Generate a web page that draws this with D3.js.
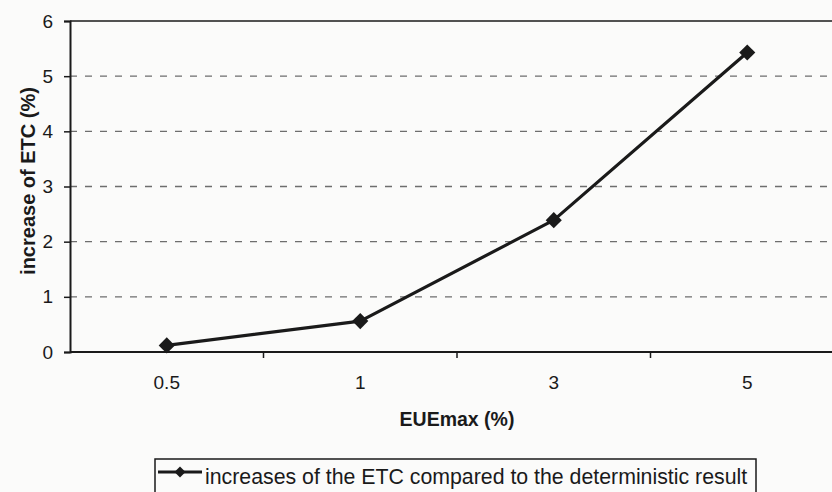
<!DOCTYPE html>
<html>
<head>
<meta charset="utf-8">
<script src="https://cdn.jsdelivr.net/npm/d3@7"></script>
<style>
  html, body { margin: 0; padding: 0; background: #fbfbfa; overflow: hidden; }
  svg { display: block; font-family: Arial, "Liberation Sans", sans-serif; }
</style>
</head>
<body>
<svg id="chart" width="832" height="492"></svg>
<script>
// EUEmax categories and ETC increase values (%)
const categories = ["0.5", "1", "3", "5"];
const etcIncrease = [0.12, 0.56, 2.39, 5.43];
const yTicks = [0, 1, 2, 3, 4, 5, 6];
const seriesName = "increases of the ETC compared to the deterministic result";
const xTitle = "EUEmax (%)";
const yTitle = "increase of ETC (%)";

const ink = "#1a1a1a";
const font = "Arial, 'Liberation Sans', sans-serif";
const svg = d3.select("#chart");

const plot = { left: 70, right: 844, top: 21, bottom: 352 };

const x = d3.scaleBand().domain(categories).range([plot.left, plot.right]).padding(0);
const y = d3.scaleLinear().domain([0, 6]).range([plot.bottom, plot.top]);

// dashed horizontal gridlines
svg.append("g")
  .selectAll("line")
  .data(yTicks.filter(v => v > 0 && v < 6))
  .join("line")
  .attr("x1", plot.left).attr("x2", plot.right)
  .attr("y1", d => y(d)).attr("y2", d => y(d))
  .attr("stroke", "#6e6e6e").attr("stroke-width", 1.3)
  .attr("stroke-dasharray", "7,8");

// top frame line
svg.append("line")
  .attr("x1", plot.left).attr("x2", plot.right)
  .attr("y1", y(6)).attr("y2", y(6))
  .attr("stroke", ink).attr("stroke-width", 1.6);

// y axis
const yAxis = svg.append("g")
  .attr("transform", `translate(${plot.left},0)`)
  .call(d3.axisLeft(y).tickValues(yTicks).tickSize(6).tickPadding(11).tickFormat(d3.format("d")));
yAxis.select(".domain").attr("stroke", ink).attr("stroke-width", 2);
yAxis.selectAll(".tick line").attr("stroke", ink).attr("stroke-width", 1.5);
yAxis.selectAll(".tick text").attr("fill", ink).attr("font-size", 19).attr("font-family", font);

// x axis: ticks sit on band boundaries, labels at band centres
const xAxisG = svg.append("g").attr("transform", `translate(0,${plot.bottom})`);
xAxisG.append("line")
  .attr("x1", plot.left).attr("x2", plot.right)
  .attr("stroke", ink).attr("stroke-width", 2);
xAxisG.selectAll("line.tick")
  .data(categories.slice(1))
  .join("line")
  .attr("class", "tick")
  .attr("x1", d => x(d)).attr("x2", d => x(d))
  .attr("y1", 0).attr("y2", 6)
  .attr("stroke", ink).attr("stroke-width", 1.5);
xAxisG.selectAll("text")
  .data(categories)
  .join("text")
  .attr("x", d => x(d) + x.bandwidth() / 2)
  .attr("y", 37)
  .attr("text-anchor", "middle")
  .attr("font-size", 19)
  .attr("fill", ink)
  .text(d => d);

// axis titles
svg.append("text")
  .attr("x", 457).attr("y", 426)
  .attr("text-anchor", "middle")
  .attr("font-size", 19.5).attr("font-weight", "bold").attr("fill", ink)
  .text(xTitle);

svg.append("text")
  .attr("transform", "translate(35,181) rotate(-90)")
  .attr("text-anchor", "middle")
  .attr("font-size", 20).attr("font-weight", "bold").attr("fill", ink)
  .text(yTitle);

// series line and diamond markers
const pts = categories.map((c, i) => [x(c) + x.bandwidth() / 2, y(etcIncrease[i])]);
svg.append("path")
  .attr("d", d3.line()(pts))
  .attr("fill", "none").attr("stroke", ink).attr("stroke-width", 3.2)
  .attr("stroke-linejoin", "round");

svg.append("g")
  .selectAll("path")
  .data(pts)
  .join("path")
  .attr("transform", d => `translate(${d[0]},${d[1]}) rotate(45)`)
  .attr("d", d3.symbol().type(d3.symbolSquare).size(130)())
  .attr("fill", ink);

// legend
const legend = svg.append("g");
legend.append("rect")
  .attr("x", 155).attr("y", 459).attr("width", 601).attr("height", 45)
  .attr("fill", "none").attr("stroke", ink).attr("stroke-width", 1.5);
legend.append("line")
  .attr("x1", 158).attr("x2", 202).attr("y1", 472).attr("y2", 472)
  .attr("stroke", ink).attr("stroke-width", 3);
legend.append("path")
  .attr("transform", "translate(180,472) rotate(45)")
  .attr("d", d3.symbol().type(d3.symbolSquare).size(60)())
  .attr("fill", ink);
legend.append("text")
  .attr("x", 205).attr("y", 484)
  .attr("font-size", 21.3).attr("fill", ink)
  .text(seriesName);
</script>
</body>
</html>
